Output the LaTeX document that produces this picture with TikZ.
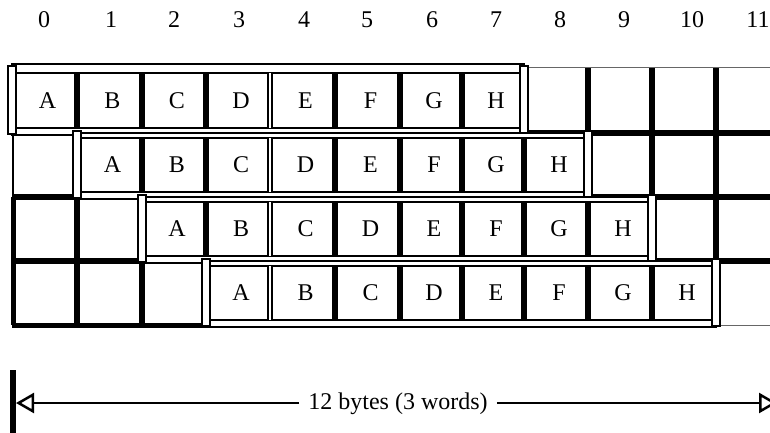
\documentclass[tikz,border=0pt]{standalone}
\usepackage{fontspec}
\setmainfont{Liberation Serif}
\usetikzlibrary{arrows.meta}
\begin{document}
\begin{tikzpicture}[x=1pt,y=-1pt,
  thickgrid/.style={line width=6pt},
  thingrid/.style={line width=1pt, black!60},
  framebox/.style={draw=black, fill=white, line width=2.5pt},
  cellbox/.style={draw=black, fill=white, line width=2pt},
  endpiece/.style={draw=black, fill=white, line width=2pt},
  lbl/.style={font=\fontsize{24}{26}\selectfont, inner sep=0pt},
  dimline/.style={line width=1.3pt},
  opentip/.style={-{Triangle[open,length=18pt,width=20pt,line width=2.5pt]}}
]
\useasboundingbox (0,0) rectangle (770,433);
\def\XX{{12,77,142,206,270,335,400,462,524,588,652,716,781}}
\def\YY{{68,133,197,261,325}}
% ---- background grid ----
\draw[thingrid] (12,68) -- (781,68);
\foreach \j in {1,2,3}{
  \pgfmathsetmacro\yy{\YY[\j]}
  \draw[thickgrid] (12,\yy) -- (781,\yy);
}
\draw[line width=5pt] (12,325) -- (206,325);
\draw[thingrid] (206,325) -- (781,325);
\foreach \j in {0,...,3}{
  \foreach \k in {1,...,11}{
    \pgfmathsetmacro\xx{\XX[\k]}
    \pgfmathsetmacro\ya{\YY[\j]}
    \pgfmathsetmacro\yb{\YY[\j+1]}
    \draw[thickgrid] (\xx,\ya) -- (\xx,\yb);
  }
}
\draw[line width=2.5pt] (13,133) -- (13,197);
\draw[line width=5pt] (13,197) -- (13,325);
% ---- the four rows ----
\foreach \r in {0,...,3}{
  \pgfmathsetmacro\xl{\XX[\r]}
  \pgfmathsetmacro\xr{\XX[\r+8]}
  \pgfmathsetmacro\yt{\YY[\r]}
  \pgfmathsetmacro\yb{\YY[\r+1]}
  \pgfmathsetmacro\ft{\r==0 ? \yt-4 : \yt}
  \draw[framebox] (\xl,\ft) rectangle (\xr,\yb+2);
  \fill[black] (\xl,\yt+4) rectangle (\xr,\yb-4);
  \foreach \c/\t in {0/A,1/B,2/C,3/D,4/E,5/F,6/G,7/H}{
    \pgfmathsetmacro\xa{\XX[\r+\c]}
    \pgfmathsetmacro\xb{\XX[\r+\c+1]}
    \draw[cellbox] (\xa+2,\yt+5) rectangle (\xb-2,\yb-5);
    \node[lbl] (cell\r\c) at ({(\xa+\xb)/2+3},{(\yt+\yb)/2}) {\t};
  }
  \fill[white] (269,\yt+5) rectangle (271,\yb-5);
  \draw[endpiece] (\xl-4,\yt-2) rectangle (\xl+4,\yb+1);
  \draw[endpiece] (\xr-4,\yt-2) rectangle (\xr+4,\yb+1);
}
% ---- column numbers ----
\foreach \n/\cx in {0/44,1/111,2/174,3/239,4/304,5/367,6/432,7/496,8/560,9/624,10/692,11/758}{
  \node[lbl] (num\n) at (\cx,20) {\n};
}
% ---- dimension line ----
\coordinate (L) at (16,403);
\coordinate (R) at (777,403);
\node[lbl, inner sep=9pt, anchor=base] (dim) at (398,409) {12 bytes (3 words)};
\draw[dimline, opentip] (dim.west |- L) -- (L);
\draw[dimline, opentip] (dim.east |- R) -- (R);
\coordinate (bartop) at (13,370);
\coordinate (barbot) at (13,433);
\draw[line width=6pt] (bartop) -- (barbot);
\end{tikzpicture}
\end{document}
